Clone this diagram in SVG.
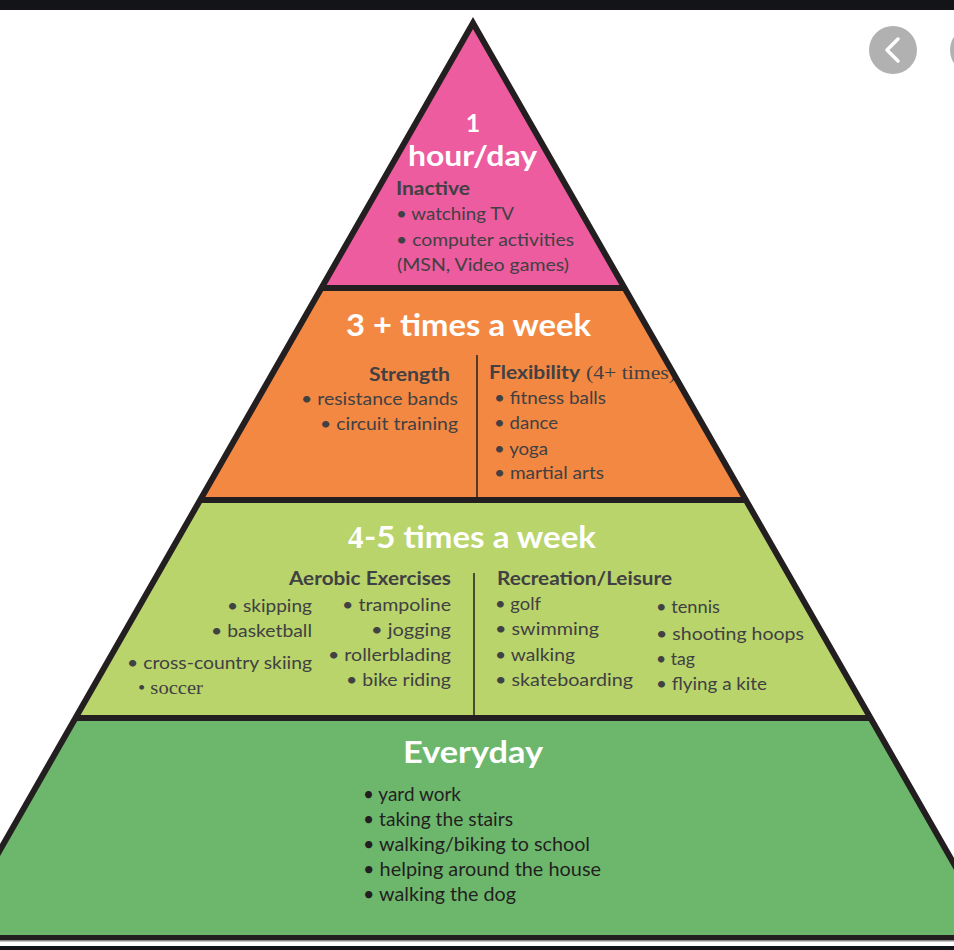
<svg xmlns="http://www.w3.org/2000/svg" width="954" height="950" viewBox="0 0 954 950">
  <style>
    .t { font-family: Lato, "Open Sans", sans-serif; fill: #414042; font-size: 18px; }
    .b { font-weight: bold; }
    .h { font-family: Lato, "Open Sans", sans-serif; font-weight: bold; fill: #ffffff; }
    .serif { font-family: "Liberation Serif", serif; }
    .edge { stroke: #231f20; fill: none; }
    .div { stroke: #231f20; stroke-width: 1.5; }
    .e { font-family: Lato, "Open Sans", sans-serif; fill: #231f20; font-size: 19px; }
  </style>
  <rect x="0" y="0" width="954" height="950" fill="#ffffff"/>
  <rect x="0" y="0" width="954" height="10" fill="#131418"/>

  <g id="layer-1-hour-day">
    <polygon points="473,23 624.6,288 321.4,288" fill="#ec5c9f"/>
    <text class="h" x="473" y="132" font-size="25" text-anchor="middle">1</text>
    <text class="h" x="408" y="166" font-size="29" textLength="129" lengthAdjust="spacingAndGlyphs">hour/day</text>
    <text class="t b" x="396" y="195" textLength="74" lengthAdjust="spacingAndGlyphs">Inactive</text>
    <text class="t" x="396" y="220" textLength="118" lengthAdjust="spacingAndGlyphs">• watching TV</text>
    <text class="t" x="396" y="246" textLength="178" lengthAdjust="spacingAndGlyphs">• computer activities</text>
    <text class="t" x="397" y="271" textLength="172" lengthAdjust="spacingAndGlyphs">(MSN, Video games)</text>
  </g>

  <g id="layer-3-times-week">
    <polygon points="321.4,288 624.6,288 745.8,500 200.2,500" fill="#f38842"/>
    <text class="h" x="346" y="336" font-size="30" textLength="245" lengthAdjust="spacingAndGlyphs">3 + times a week</text>
    <text class="t b" x="369" y="381" textLength="81" lengthAdjust="spacingAndGlyphs">Strength</text>
    <text class="t" x="301" y="405" textLength="157" lengthAdjust="spacingAndGlyphs">• resistance bands</text>
    <text class="t" x="320" y="430" textLength="138" lengthAdjust="spacingAndGlyphs">• circuit training</text>
    <text class="t b" x="489" y="379" textLength="91" lengthAdjust="spacingAndGlyphs">Flexibility</text>
    <text class="t serif" x="586" y="379" font-size="18" textLength="90" lengthAdjust="spacingAndGlyphs">(4+ times)</text>
    <text class="t" x="494" y="404" textLength="112" lengthAdjust="spacingAndGlyphs">• fitness balls</text>
    <text class="t" x="494" y="429" textLength="64" lengthAdjust="spacingAndGlyphs">• dance</text>
    <text class="t" x="494" y="455" textLength="54" lengthAdjust="spacingAndGlyphs">• yoga</text>
    <text class="t" x="494" y="479" textLength="110" lengthAdjust="spacingAndGlyphs">• martial arts</text>
  </g>

  <g id="layer-4-5-times-week">
    <polygon points="200.2,500 745.8,500 870.5,718 75.5,718" fill="#b8d46b"/>
    <text class="h serif" x="348" y="548" font-size="31" font-weight="normal">4</text>
    <text class="h" x="364" y="548" font-size="30" textLength="232" lengthAdjust="spacingAndGlyphs">-5 times a week</text>
    <text class="t b" x="289" y="585" textLength="162" lengthAdjust="spacingAndGlyphs">Aerobic Exercises</text>
    <text class="t" x="227" y="612" textLength="85" lengthAdjust="spacingAndGlyphs">• skipping</text>
    <text class="t" x="211" y="637" textLength="101" lengthAdjust="spacingAndGlyphs">• basketball</text>
    <text class="t" x="127" y="669" textLength="185" lengthAdjust="spacingAndGlyphs">• cross-country skiing</text>
    <text class="t serif" x="138" y="694" font-size="17" textLength="65" lengthAdjust="spacingAndGlyphs">• soccer</text>
    <text class="t" x="342" y="611" textLength="109" lengthAdjust="spacingAndGlyphs">• trampoline</text>
    <text class="t" x="371" y="636" textLength="80" lengthAdjust="spacingAndGlyphs">• jogging</text>
    <text class="t" x="328" y="661" textLength="123" lengthAdjust="spacingAndGlyphs">• rollerblading</text>
    <text class="t" x="346" y="686" textLength="105" lengthAdjust="spacingAndGlyphs">• bike riding</text>
    <text class="t b" x="497" y="585" textLength="175" lengthAdjust="spacingAndGlyphs">Recreation/Leisure</text>
    <text class="t" x="495" y="610" textLength="46" lengthAdjust="spacingAndGlyphs">• golf</text>
    <text class="t" x="495" y="635" textLength="104" lengthAdjust="spacingAndGlyphs">• swimming</text>
    <text class="t" x="495" y="661" textLength="80" lengthAdjust="spacingAndGlyphs">• walking</text>
    <text class="t" x="495" y="686" textLength="138" lengthAdjust="spacingAndGlyphs">• skateboarding</text>
    <text class="t" x="656" y="613" textLength="64" lengthAdjust="spacingAndGlyphs">• tennis</text>
    <text class="t" x="656" y="640" textLength="148" lengthAdjust="spacingAndGlyphs">• shooting hoops</text>
    <text class="t" x="656" y="665" textLength="39" lengthAdjust="spacingAndGlyphs">• tag</text>
    <text class="t" x="656" y="690" textLength="111" lengthAdjust="spacingAndGlyphs">• flying a kite</text>
  </g>

  <g id="layer-everyday">
    <polygon points="75.5,718 870.5,718 995.8,937 -49.8,937" fill="#6db76d"/>
    <text class="h" x="403" y="763" font-size="31" textLength="140" lengthAdjust="spacingAndGlyphs">Everyday</text>
    <text class="e" x="363" y="801" textLength="98" lengthAdjust="spacingAndGlyphs">• yard work</text>
    <text class="e" x="363" y="826" textLength="150" lengthAdjust="spacingAndGlyphs">• taking the stairs</text>
    <text class="e" x="363" y="851" textLength="227" lengthAdjust="spacingAndGlyphs">• walking/biking to school</text>
    <text class="e" x="363" y="876" textLength="238" lengthAdjust="spacingAndGlyphs">• helping around the house</text>
    <text class="e" x="363" y="901" textLength="153" lengthAdjust="spacingAndGlyphs">• walking the dog</text>
  </g>

  <g id="connectors">
    <path class="edge" d="M -49.8 937 L 473 23 L 995.8 937" stroke-width="6" stroke-linejoin="miter"/>
    <line class="edge" x1="321" y1="288" x2="625" y2="288" stroke-width="6"/>
    <line class="edge" x1="200" y1="500" x2="746" y2="500" stroke-width="6"/>
    <line class="edge" x1="75" y1="718" x2="871" y2="718" stroke-width="6"/>
    <line class="edge" x1="0" y1="937.5" x2="954" y2="937.5" stroke-width="5"/>
    <line class="div" x1="477" y1="355" x2="477" y2="497"/>
    <line class="div" x1="474" y1="573" x2="474" y2="715"/>
  </g>

  <rect x="0" y="940" width="954" height="1.5" fill="#8a8a8a"/>
  <rect x="0" y="946" width="954" height="4" fill="#131418"/>

  <g id="nav-buttons">
    <circle cx="893" cy="50" r="24" fill="#b1b1b1"/>
    <path d="M 898 39 L 887 50 L 898 61" fill="none" stroke="#ffffff" stroke-width="3.5" stroke-linecap="round" stroke-linejoin="round"/>
    <circle cx="974" cy="50" r="24" fill="#b1b1b1"/>
  </g>
</svg>
